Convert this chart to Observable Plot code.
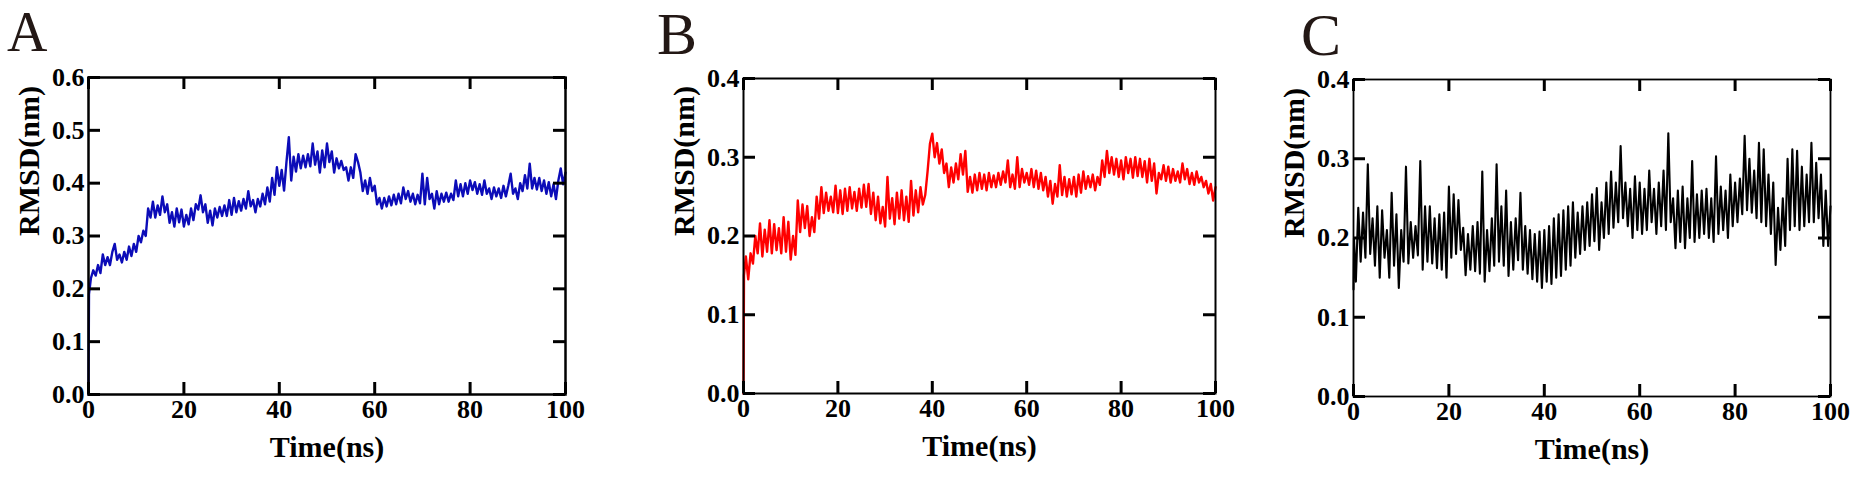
<!DOCTYPE html>
<html>
<head>
<meta charset="utf-8">
<script src="https://cdn.jsdelivr.net/npm/d3@7"></script>
<script src="https://cdn.jsdelivr.net/npm/@observablehq/plot@0.6"></script>
<style>
  html, body { margin: 0; padding: 0; background: #fff; }
  #root { position: relative; width: 1856px; height: 480px; overflow: hidden; background: #fff; }
  .panel { position: absolute; top: 0; }
  .letter { position: absolute; font-family: "Liberation Serif", serif; color: #231815; }
</style>
</head>
<body>
<div id="root"></div>
<script>
// ---- data ----
const time = [0, 0.1,
  0.5,1,1.5,2,2.5,3,3.5,4,4.5,5,
  5.5,6,6.5,7,7.5,8,8.5,9,9.5,10,
  10.5,11,11.5,12,12.5,13,13.5,14,14.5,15,
  15.5,16,16.5,17,17.5,18,18.5,19,19.5,20,
  20.5,21,21.5,22,22.5,23,23.5,24,24.5,25,
  25.5,26,26.5,27,27.5,28,28.5,29,29.5,30,
  30.5,31,31.5,32,32.5,33,33.5,34,34.5,35,
  35.5,36,36.5,37,37.5,38,38.5,39,39.5,40,
  40.5,41,41.5,42,42.5,43,43.5,44,44.5,45,
  45.5,46,46.5,47,47.5,48,48.5,49,49.5,50,
  50.5,51,51.5,52,52.5,53,53.5,54,54.5,55,
  55.5,56,56.5,57,57.5,58,58.5,59,59.5,60,
  60.5,61,61.5,62,62.5,63,63.5,64,64.5,65,
  65.5,66,66.5,67,67.5,68,68.5,69,69.5,70,
  70.5,71,71.5,72,72.5,73,73.5,74,74.5,75,
  75.5,76,76.5,77,77.5,78,78.5,79,79.5,80,
  80.5,81,81.5,82,82.5,83,83.5,84,84.5,85,
  85.5,86,86.5,87,87.5,88,88.5,89,89.5,90,
  90.5,91,91.5,92,92.5,93,93.5,94,94.5,95,
  95.5,96,96.5,97,97.5,98,98.5,99,99.5,100];

const rmsdA = [0, 0.19,
  0.22,0.235,0.225,0.245,0.23,0.265,0.245,0.26,0.245,0.27,
  0.285,0.255,0.265,0.25,0.27,0.255,0.28,0.262,0.285,0.27,
  0.3,0.288,0.31,0.3,0.352,0.335,0.365,0.335,0.358,0.34,
  0.375,0.345,0.36,0.325,0.345,0.318,0.352,0.326,0.35,0.318,
  0.34,0.322,0.352,0.33,0.36,0.35,0.377,0.345,0.36,0.325,
  0.348,0.32,0.352,0.335,0.355,0.338,0.358,0.338,0.368,0.34,
  0.372,0.345,0.366,0.348,0.37,0.352,0.385,0.356,0.368,0.345,
  0.37,0.356,0.38,0.36,0.392,0.365,0.41,0.378,0.43,0.395,
  0.425,0.386,0.44,0.487,0.405,0.45,0.422,0.455,0.428,0.452,
  0.43,0.455,0.432,0.475,0.435,0.46,0.42,0.462,0.43,0.475,
  0.44,0.46,0.42,0.447,0.428,0.442,0.425,0.43,0.405,0.43,
  0.41,0.455,0.44,0.42,0.385,0.405,0.38,0.41,0.385,0.395,
  0.36,0.372,0.352,0.372,0.356,0.375,0.358,0.378,0.36,0.38,
  0.362,0.392,0.37,0.385,0.365,0.38,0.36,0.378,0.362,0.418,
  0.36,0.41,0.37,0.38,0.352,0.385,0.36,0.38,0.365,0.382,
  0.365,0.38,0.368,0.405,0.375,0.398,0.375,0.4,0.38,0.405,
  0.387,0.402,0.38,0.398,0.378,0.405,0.38,0.39,0.37,0.392,
  0.375,0.39,0.372,0.395,0.375,0.395,0.418,0.38,0.39,0.37,
  0.4,0.385,0.415,0.39,0.437,0.39,0.41,0.388,0.41,0.385,
  0.405,0.38,0.402,0.375,0.398,0.37,0.405,0.428,0.398,0.42];

const rmsdB = [0, 0.15,
  0.174,0.145,0.178,0.165,0.2,0.178,0.216,0.174,0.208,0.18,
  0.22,0.178,0.215,0.182,0.21,0.178,0.224,0.18,0.218,0.17,
  0.2,0.176,0.245,0.205,0.24,0.21,0.238,0.2,0.224,0.205,
  0.25,0.222,0.262,0.229,0.255,0.232,0.25,0.23,0.264,0.229,
  0.258,0.228,0.26,0.232,0.262,0.235,0.256,0.232,0.26,0.236,
  0.265,0.237,0.266,0.228,0.255,0.22,0.25,0.216,0.237,0.212,
  0.275,0.222,0.248,0.215,0.255,0.222,0.258,0.22,0.25,0.218,
  0.27,0.226,0.258,0.23,0.262,0.24,0.252,0.282,0.317,0.33,
  0.3,0.318,0.292,0.31,0.28,0.292,0.262,0.287,0.268,0.292,
  0.272,0.304,0.278,0.308,0.256,0.275,0.255,0.278,0.258,0.28,
  0.26,0.278,0.258,0.28,0.262,0.277,0.262,0.28,0.265,0.282,
  0.268,0.296,0.262,0.278,0.26,0.3,0.262,0.285,0.268,0.28,
  0.265,0.285,0.262,0.283,0.26,0.28,0.258,0.275,0.25,0.27,
  0.241,0.266,0.25,0.29,0.252,0.275,0.25,0.272,0.253,0.275,
  0.25,0.278,0.255,0.282,0.26,0.276,0.262,0.278,0.258,0.275,
  0.265,0.296,0.275,0.308,0.28,0.3,0.278,0.298,0.275,0.296,
  0.272,0.3,0.28,0.298,0.274,0.3,0.276,0.298,0.275,0.295,
  0.268,0.298,0.27,0.292,0.254,0.28,0.272,0.29,0.27,0.288,
  0.268,0.285,0.27,0.282,0.268,0.292,0.272,0.285,0.266,0.28,
  0.265,0.282,0.268,0.275,0.262,0.27,0.254,0.266,0.245,0.262];

const rmsdC = [0.135, 0.2,
  0.145,0.238,0.17,0.232,0.175,0.293,0.18,0.225,0.165,0.24,
  0.15,0.235,0.175,0.21,0.15,0.257,0.165,0.23,0.137,0.21,
  0.17,0.29,0.168,0.22,0.175,0.215,0.178,0.297,0.16,0.24,
  0.17,0.24,0.168,0.225,0.162,0.23,0.16,0.232,0.15,0.265,
  0.175,0.255,0.18,0.248,0.185,0.213,0.153,0.205,0.16,0.215,
  0.158,0.22,0.155,0.284,0.145,0.21,0.158,0.225,0.165,0.293,
  0.17,0.24,0.165,0.26,0.152,0.22,0.16,0.225,0.172,0.257,
  0.16,0.215,0.155,0.21,0.148,0.205,0.145,0.208,0.137,0.21,
  0.145,0.215,0.142,0.225,0.15,0.23,0.152,0.235,0.16,0.24,
  0.165,0.245,0.175,0.232,0.18,0.24,0.185,0.245,0.19,0.255,
  0.196,0.263,0.185,0.245,0.2,0.27,0.205,0.284,0.213,0.27,
  0.22,0.316,0.225,0.27,0.215,0.262,0.2,0.278,0.21,0.27,
  0.205,0.262,0.21,0.285,0.22,0.262,0.205,0.27,0.215,0.285,
  0.21,0.332,0.22,0.25,0.187,0.26,0.195,0.265,0.187,0.25,
  0.2,0.297,0.195,0.255,0.2,0.26,0.205,0.262,0.2,0.25,
  0.195,0.303,0.205,0.265,0.21,0.26,0.2,0.28,0.215,0.27,
  0.22,0.275,0.23,0.329,0.235,0.3,0.232,0.285,0.225,0.32,
  0.22,0.312,0.215,0.28,0.205,0.27,0.166,0.238,0.185,0.25,
  0.19,0.3,0.21,0.312,0.215,0.31,0.21,0.29,0.215,0.28,
  0.22,0.32,0.22,0.295,0.225,0.28,0.19,0.26,0.19,0.24];

const xTicks = [0, 20, 40, 60, 80, 100];
const yTicksA = [0, 0.1, 0.2, 0.3, 0.4, 0.5, 0.6];
const yTicksBC = [0, 0.1, 0.2, 0.3, 0.4];
const xTitle = "Time(ns)";
const yTitle = "RMSD(nm)";
const panelLetters = ["A", "B", "C"];

// ---- drawing ----
const FONT = "Liberation Serif";

function panel({values, color, lineW, yMax, yTicks, left, width, mL, mR, mT, mB, frameW}) {
  const plotW = width - mL - mR;
  const plotH = 480 - mT - mB;
  const rows = time.map((t, i) => ({t, v: values[i]}));
  const tick = 12;
  const chart = Plot.plot({
    width, height: 480,
    marginLeft: mL, marginRight: mR, marginTop: mT, marginBottom: mB,
    x: {domain: [0, 100], axis: null},
    y: {domain: [0, yMax], axis: null},
    style: {background: "transparent", overflow: "visible", fontFamily: FONT},
    marks: [
      Plot.line(rows, {x: "t", y: "v", stroke: color, strokeWidth: lineW}),
      Plot.frame({stroke: "#000", strokeWidth: frameW}),
      Plot.ruleX(xTicks, {x: d => d, insetTop: plotH - tick, stroke: "#000", strokeWidth: 3}),
      Plot.ruleX(xTicks, {x: d => d, insetBottom: plotH - tick, stroke: "#000", strokeWidth: 3}),
      Plot.ruleY(yTicks, {y: d => d, insetRight: plotW - tick, stroke: "#000", strokeWidth: 3}),
      Plot.ruleY(yTicks, {y: d => d, insetLeft: plotW - tick, stroke: "#000", strokeWidth: 3}),
      Plot.text(xTicks, {x: d => d, frameAnchor: "bottom", dy: 23, text: d => String(d),
        fontFamily: FONT, fontWeight: "bold", fontSize: 26, fill: "#000"}),
      Plot.text(yTicks, {y: d => d, frameAnchor: "left", dx: -4, textAnchor: "end", text: d => d.toFixed(1),
        fontFamily: FONT, fontWeight: "bold", fontSize: 26, fill: "#000"}),
      Plot.text([xTitle], {frameAnchor: "bottom", dy: 62, text: d => d,
        fontFamily: FONT, fontWeight: "bold", fontSize: 30, fill: "#000"}),
      Plot.text([yTitle], {frameAnchor: "left", dx: -59, rotate: -90, text: d => d,
        fontFamily: FONT, fontWeight: "bold", fontSize: 30, fill: "#000"})
    ]
  });
  const wrap = document.createElement("div");
  wrap.className = "panel";
  wrap.style.left = left + "px";
  wrap.appendChild(chart);
  document.getElementById("root").appendChild(wrap);
}

panel({values: rmsdA, color: "#0c0cb8", lineW: 2.4, yMax: 0.6, yTicks: yTicksA,
  left: 0, width: 600, mL: 88, mR: 35, mT: 77, mB: 86, frameW: 2.5});
panel({values: rmsdB, color: "#ff0000", lineW: 2.4, yMax: 0.4, yTicks: yTicksBC,
  left: 650, width: 600, mL: 93, mR: 35, mT: 78, mB: 87, frameW: 2});
panel({values: rmsdC, color: "#000000", lineW: 2.1, yMax: 0.4, yTicks: yTicksBC,
  left: 1260, width: 596, mL: 93, mR: 26, mT: 79, mB: 84, frameW: 1.8});

const letterPos = [
  {x: 7, top: 1, size: 56, lh: 62},
  {x: 657, top: 11, size: 60, lh: 46},
  {x: 1301, top: 12, size: 60, lh: 46}
];
panelLetters.forEach((L, i) => {
  const d = document.createElement("div");
  d.className = "letter";
  d.textContent = L;
  d.style.left = letterPos[i].x + "px";
  d.style.top = letterPos[i].top + "px";
  d.style.fontSize = letterPos[i].size + "px";
  d.style.lineHeight = letterPos[i].lh + "px";
  document.getElementById("root").appendChild(d);
});
</script>
</body>
</html>
